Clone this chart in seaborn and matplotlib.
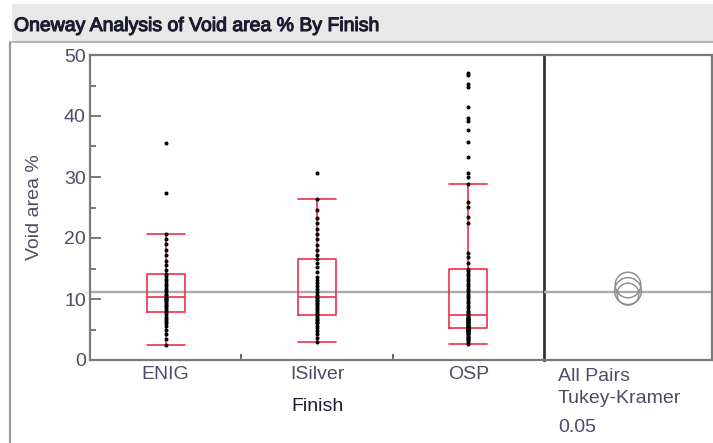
import matplotlib
matplotlib.use("Agg")
import matplotlib.pyplot as plt
from matplotlib.patches import Rectangle
from matplotlib.lines import Line2D
import matplotlib.patheffects as pe
import numpy as np
import pandas as pd
import seaborn as sns

# ---- data -------------------------------------------------------------
finishes = ["ENIG", "ISilver", "OSP"]

enig_void = [2.5, 3.4, 4.2, 4.9, 5.5, 6.0, 6.4, 6.8, 7.1, 7.5,
             7.9, 8.2, 8.5, 8.8, 9.0, 9.3, 9.6, 9.9, 10.0, 10.2,
             10.3, 10.6, 10.9, 11.3, 11.7, 12.1, 12.5, 12.9, 13.3, 13.7,
             14.1, 14.8, 15.5, 16.3, 17.2, 18.1, 19.0, 19.8, 20.7,
             27.4, 35.6]

isilver_void = [2.9, 3.6, 4.2, 4.7, 5.2, 5.6, 6.0, 6.3, 6.6, 6.8,
                7.0, 7.3, 7.6, 7.9, 8.2, 8.5, 8.8, 9.1, 9.4, 9.7,
                9.9, 10.1, 10.3, 10.7, 11.1, 11.6, 12.1, 12.6, 13.1, 13.6,
                14.4, 15.2, 15.9, 16.5, 17.2, 18.0, 18.9, 19.8, 20.6, 21.5,
                22.4, 23.3, 24.6, 26.4, 30.7]

osp_void = [2.6, 2.9, 3.2, 3.4, 3.6, 3.8, 4.0, 4.2, 4.3, 4.5,
            4.6, 4.7, 4.8, 4.9, 5.0, 5.0, 5.1, 5.1, 5.2, 5.2,
            5.2, 5.3, 5.4, 5.5, 5.6, 5.7, 5.8, 5.9, 6.0, 6.1,
            6.2, 6.3, 6.4, 6.5, 6.6, 6.7, 6.8, 6.9, 7.0, 7.1,
            7.3, 7.5, 7.8, 8.1, 8.5, 8.9, 9.3, 9.7, 10.1, 10.5,
            10.9, 11.3, 11.7, 12.1, 12.5, 12.9, 13.3, 13.7, 14.1, 14.6,
            15.0, 15.9, 16.9, 17.5, 22.4, 23.4, 25.1, 25.9, 28.9,
            30.0, 30.6, 33.3, 35.8, 37.7, 39.1, 39.7, 41.4, 44.8, 45.2,
            46.7, 47.1]

# group means and comparison-circle radii (Tukey-Kramer, alpha 0.05)
group_means = [11.3, 12.3, 10.8]
circle_radii = [2.2, 2.1, 1.8]
grand_mean = 11.2

y_ticks = [0, 10, 20, 30, 40, 50]
y_minor_ticks = [5, 15, 25, 35, 45]
compare_lines = ["All Pairs", "Tukey-Kramer", "0.05"]

df = pd.DataFrame({
    "Finish": np.repeat(finishes, [len(enig_void), len(isilver_void), len(osp_void)]),
    "Void area %": enig_void + isilver_void + osp_void,
})

# ---- styling ------------------------------------------------------------
sns.set_style("white")
plt.rcParams["font.family"] = ["Liberation Sans", "DejaVu Sans"]

W, H = 713, 443
fig = plt.figure(figsize=(W / 100, H / 100), dpi=100)
fig.patch.set_facecolor("white")


def fx(px):
    return px / W


def fy(py):
    return 1 - py / H


label_col = "#4c4c66"
dark_col = "#1c1c30"
frame_col = "#7a7a7a"
box_red = "#f0304a"

# report header bar
fig.add_artist(Rectangle((fx(12), fy(42)), fx(713) - fx(12), fy(4) - fy(42),
                         transform=fig.transFigure, facecolor="#e8e8e8",
                         edgecolor="none", zorder=0))
fig.add_artist(Line2D([fx(12), fx(713)], [fy(42), fy(42)], transform=fig.transFigure,
                      color="#a8a8a8", lw=1.2))
fig.add_artist(Line2D([fx(10), fx(10)], [fy(42), fy(443)], transform=fig.transFigure,
                      color="#9a9a9a", lw=1.6))
fig.text(fx(14), fy(31), "Oneway Analysis of Void area % By Finish",
         fontsize=14, color=dark_col, ha="left", va="baseline",
         path_effects=[pe.withStroke(linewidth=0.8, foreground=dark_col)])

# ---- main oneway panel ------------------------------------------------------
ax = fig.add_axes([fx(90), fy(360), fx(544) - fx(90), fy(55) - fy(360)])
ax.axhline(grand_mean, color="#ababab", lw=1.7, zorder=1)

sns.boxplot(data=df, x="Finish", y="Void area %", order=finishes, ax=ax,
            fill=False, color=box_red, saturation=1, width=0.25,
            linewidth=1.2, showfliers=False, whis=1.5, capwidths=0.25,
            zorder=2)
sns.stripplot(data=df, x="Finish", y="Void area %", order=finishes, ax=ax,
              jitter=False, color="black", size=2.9, linewidth=0, zorder=3)

ax.set_xlim(-0.5, 2.5)
ax.set_ylim(0, 50)
ax.set_yticks(y_ticks)
ax.set_yticks(y_minor_ticks, minor=True)
ax.set_yticklabels([str(t) for t in y_ticks])
ax.set_xticks(range(len(finishes)))
ax.set_xticklabels(finishes)
ax.set_xticks([0.5, 1.5], minor=True)

ax.tick_params(axis="y", which="major", direction="in", length=8, width=1.2,
               color="#606060", pad=3, labelsize=14, labelcolor=label_col, left=True)
ax.tick_params(axis="y", which="minor", direction="in", length=4, width=1.2,
               color="#606060", left=True)
ax.tick_params(axis="x", which="major", length=0, pad=4, labelsize=14,
               labelcolor=label_col)
ax.tick_params(axis="x", which="minor", direction="in", length=4, width=1.2,
               color="#505050", bottom=True)

ax.set_xlabel("Finish", fontsize=14, color=dark_col)
ax.set_ylabel("Void area %", fontsize=14, color=label_col)
ax.xaxis.set_label_coords(0.502, -0.125)
ax.yaxis.set_label_coords(-0.1035, 0.5)

for name, sp in ax.spines.items():
    sp.set_visible(True)
    sp.set_color(frame_col)
    sp.set_linewidth(1.6)
ax.spines["right"].set_color("#333333")
ax.spines["right"].set_linewidth(2.0)
ax.spines["right"].set_zorder(5)

# ---- comparison circles panel ----------------------------------------------
ax2 = fig.add_axes([fx(544), fy(360), fx(712) - fx(544), fy(55) - fy(360)])
ax2.set_xlim(0, 1)
ax2.set_ylim(0, 50)
ax2.axhline(grand_mean, color="#ababab", lw=1.7, zorder=1)
px_per_unit = ax2.bbox.height / 50
sizes = [(2 * r * px_per_unit * 72 / fig.dpi) ** 2 for r in circle_radii]
ax2.scatter([0.5] * len(group_means), group_means, s=sizes, facecolors="none",
            edgecolors="#8a8a8a", linewidths=1.0, zorder=3)
ax2.set_xticks([])
ax2.set_yticks([])
for name, sp in ax2.spines.items():
    sp.set_color(frame_col)
    sp.set_linewidth(1.6)
ax2.spines["left"].set_visible(False)
ax2.set_facecolor("none")

for text, base in zip(compare_lines, [381, 403, 432]):
    fig.text(fx(558), fy(base), text, fontsize=14, color=label_col,
             ha="left", va="baseline")

fig.savefig("out.png", dpi=100)
